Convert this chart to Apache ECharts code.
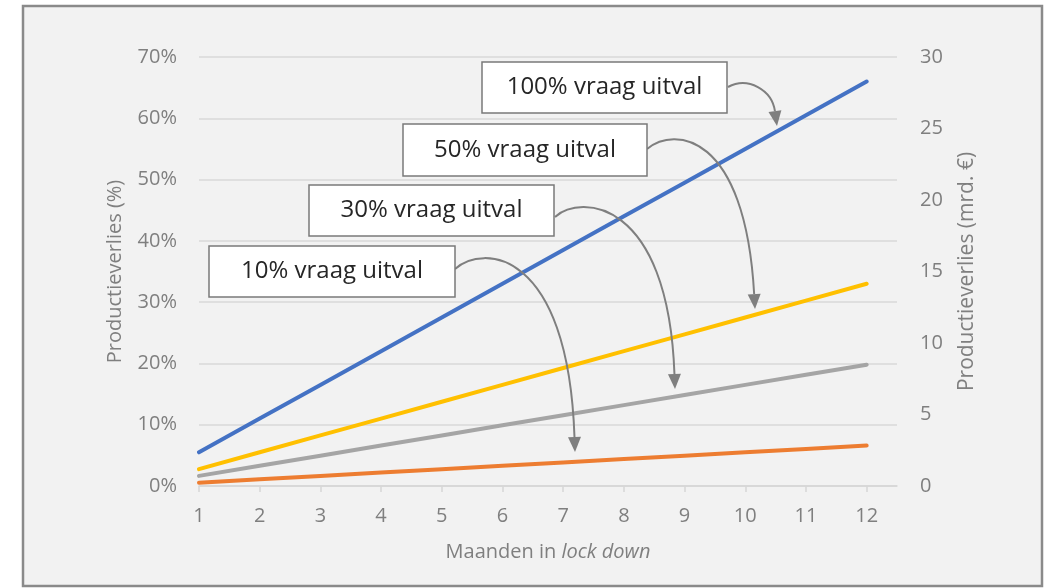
<!DOCTYPE html>
<html>
<head>
<meta charset="utf-8">
<script src="https://cdn.jsdelivr.net/npm/echarts@6/dist/echarts.min.js"></script>
<style>
  html, body { margin: 0; padding: 0; background: #fff; }
  #chart { width: 1046px; height: 588px; }
</style>
</head>
<body>
<div id="chart"></div>
<script>
// months in lock down
const months = [1, 2, 3, 4, 5, 6, 7, 8, 9, 10, 11, 12]
// productieverlies (%) per scenario
const uitval100 = [5.5, 11, 16.5, 22, 27.5, 33, 38.5, 44, 49.5, 55, 60.5, 66]
const uitval50 = [2.75, 5.5, 8.25, 11, 13.75, 16.5, 19.25, 22, 24.75, 27.5, 30.25, 33]
const uitval30 = [1.65, 3.3, 4.95, 6.6, 8.25, 9.9, 11.55, 13.2, 14.85, 16.5, 18.15, 19.8]
const uitval10 = [0.55, 1.1, 1.65, 2.2, 2.75, 3.3, 3.85, 4.4, 4.95, 5.5, 6.05, 6.6]
const labels = ['100% vraag uitval', '50% vraag uitval', '30% vraag uitval', '10% vraag uitval']

const FONT = '"Open Sans", "Noto Sans", sans-serif'
const GRAY = '#7f7f7f'

function pairs(vals) {
  return vals.map((v, i) => [months[i], v])
}

// annotation boxes [x, y, w, h] and arrow curves [p0, p1, p2, tip]
const boxes = [
  [482, 62, 245, 51],
  [403, 124, 244, 52],
  [309, 185, 245, 51],
  [209, 246, 246, 51]
]
const arrows = [
  [[728, 87], [748, 76], [772, 90], [777, 126]],
  [[647, 149], [674, 126], [745, 132], [755, 309]],
  [[555, 217], [580, 194], [668, 198], [675, 389]],
  [[455, 269], [482, 244], [568, 248], [575, 452]]
]

function buildGraphics() {
  const g = [{
    type: 'rect',
    z: -10,
    shape: { x: 23, y: 6, width: 1019, height: 580 },
    style: { fill: '#f2f2f2', stroke: '#8a8a8a', lineWidth: 2.5 }
  }]
  boxes.forEach((b, i) => {
    g.push({
      type: 'rect',
      z: 50,
      shape: { x: b[0], y: b[1], width: b[2], height: b[3] },
      style: { fill: '#ffffff', stroke: '#7a7a7a', lineWidth: 1.5 }
    })
    g.push({
      type: 'text',
      z: 51,
      x: b[0] + b[2] / 2,
      y: b[1] + b[3] / 2,
      style: {
        text: labels[i],
        fill: '#262626',
        font: '24px ' + FONT,
        align: 'center',
        verticalAlign: 'middle'
      }
    })
  })
  arrows.forEach(a => {
    const [p0, p1, p2, tip] = a
    const dx = tip[0] - p2[0], dy = tip[1] - p2[1]
    const len = Math.sqrt(dx * dx + dy * dy)
    const ux = dx / len, uy = dy / len
    const hl = 15, hw = 6.5
    const bx = tip[0] - ux * hl, by = tip[1] - uy * hl
    g.push({
      type: 'bezierCurve',
      z: 40,
      shape: {
        x1: p0[0], y1: p0[1],
        cpx1: p1[0], cpy1: p1[1],
        cpx2: p2[0], cpy2: p2[1],
        x2: bx, y2: by
      },
      style: { stroke: GRAY, lineWidth: 2, fill: null }
    })
    g.push({
      type: 'polygon',
      z: 41,
      shape: {
        points: [tip, [bx - uy * hw, by + ux * hw], [bx + uy * hw, by - ux * hw]]
      },
      style: { fill: GRAY }
    })
  })
  return g
}

const chart = echarts.init(document.getElementById('chart'))

function line(name, vals, color) {
  return {
    name: name,
    type: 'line',
    yAxisIndex: 0,
    data: pairs(vals),
    symbol: 'none',
    lineStyle: { color: color, width: 4, cap: 'round' },
    itemStyle: { color: color },
    animation: false
  }
}

chart.setOption({
  backgroundColor: '#ffffff',
  textStyle: { fontFamily: FONT },
  grid: { left: 199, right: 149, top: 57, bottom: 102 },
  xAxis: {
    type: 'value',
    min: 1,
    max: 12.5,
    interval: 1,
    splitLine: { show: false },
    axisLine: { show: true, lineStyle: { color: '#d6d6d6', width: 1.5 } },
    axisTick: { show: true, length: 6, customValues: months, lineStyle: { color: '#d6d6d6', width: 1.5 } },
    axisLabel: { customValues: months, color: GRAY, fontSize: 20, margin: 20, fontFamily: FONT },
    name: '{n|Maanden in }{i|lock down}',
    nameLocation: 'middle',
    nameGap: 56,
    nameTextStyle: {
      rich: {
        n: { color: GRAY, fontSize: 20, fontFamily: FONT },
        i: { color: GRAY, fontSize: 20, fontFamily: FONT, fontStyle: 'italic' }
      }
    }
  },
  yAxis: [{
    type: 'value',
    min: 0,
    max: 70,
    interval: 10,
    axisLine: { show: false },
    axisTick: { show: false },
    splitLine: { lineStyle: { color: '#d9d9d9', width: 1.5 } },
    axisLabel: { formatter: '{value}%', color: GRAY, fontSize: 20, margin: 22, fontFamily: FONT },
    name: 'Productieverlies (%)',
    nameLocation: 'middle',
    nameRotate: 90,
    nameGap: 74,
    nameTextStyle: { color: GRAY, fontSize: 20, fontFamily: FONT }
  }, {
    type: 'value',
    position: 'right',
    min: 0,
    max: 30,
    interval: 5,
    axisLine: { show: false },
    axisTick: { show: false },
    splitLine: { show: false },
    axisLabel: { color: GRAY, fontSize: 20, margin: 23, fontFamily: FONT },
    name: 'Productieverlies (mrd. €)',
    nameLocation: 'middle',
    nameRotate: 90,
    nameGap: 60,
    nameTextStyle: { color: GRAY, fontSize: 21, fontFamily: FONT }
  }],
  series: [
    line('10% vraag uitval', uitval10, '#ed7d31'),
    line('30% vraag uitval', uitval30, '#a5a5a5'),
    line('50% vraag uitval', uitval50, '#ffc000'),
    line('100% vraag uitval', uitval100, '#4472c4')
  ],
  graphic: buildGraphics()
})
</script>
</body>
</html>
